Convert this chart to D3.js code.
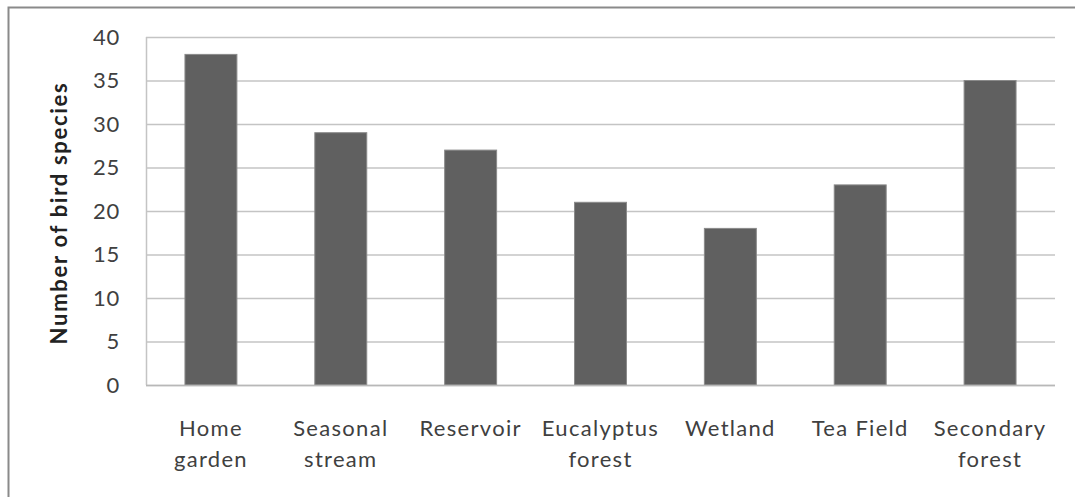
<!DOCTYPE html>
<html>
<head>
<meta charset="utf-8">
<script src="https://cdn.jsdelivr.net/npm/d3@7"></script>
<style>
  html, body { margin: 0; padding: 0; background: #fff; }
  svg { display: block; }
  text { font-family: Lato, "Open Sans", sans-serif; }
</style>
</head>
<body>
<svg id="chart" width="1075" height="497"></svg>
<script>
// Bird species richness by habitat type
const categories = [
  ["Home", "garden"],
  ["Seasonal", "stream"],
  ["Reservoir"],
  ["Eucalyptus", "forest"],
  ["Wetland"],
  ["Tea Field"],
  ["Secondary", "forest"]
];
const speciesCounts = [38, 29, 27, 21, 18, 23, 35];
const yTicks = [0, 5, 10, 15, 20, 25, 30, 35, 40];
const yTitle = "Number of bird species";

const svg = d3.select("#chart");
const W = 1075, H = 497;
const plot = { left: 146, right: 1055, top: 37, bottom: 385 };

// outer frame (top and left edges)
svg.append("path")
  .attr("d", `M8.5,${H} L8.5,7.5 L${W},7.5`)
  .attr("fill", "none")
  .attr("stroke", "#8a8a8a")
  .attr("stroke-width", 2);

const labels = categories.map(c => c.join(" "));
const x = d3.scaleBand().domain(labels).range([plot.left, plot.right]).paddingInner(0.6).paddingOuter(0.3);
const y = d3.scaleLinear().domain([0, 40]).range([plot.bottom, plot.top]);

// horizontal gridlines
svg.append("g")
  .selectAll("line")
  .data(yTicks)
  .join("line")
  .attr("x1", plot.left).attr("x2", plot.right)
  .attr("y1", d => y(d) + 0.5).attr("y2", d => y(d) + 0.5)
  .attr("stroke", "#c4c4c4")
  .attr("stroke-width", 1.5);

// left axis line
svg.append("line")
  .attr("x1", plot.left + 0.5).attr("x2", plot.left + 0.5)
  .attr("y1", plot.top).attr("y2", plot.bottom)
  .attr("stroke", "#c4c4c4").attr("stroke-width", 1.5);

// y axis labels
const yAxis = d3.axisLeft(y).tickValues(yTicks).tickSize(0).tickPadding(26);
const gy = svg.append("g").attr("transform", `translate(${plot.left},0)`).call(yAxis);
gy.select(".domain").remove();
gy.selectAll("text")
  .attr("fill", "#404040")
  .style("font-family", "Lato, sans-serif")
  .style("font-size", "22px")
  .style("letter-spacing", "0.8px");

// bars
svg.append("g")
  .selectAll("rect")
  .data(speciesCounts)
  .join("rect")
  .attr("x", (d, i) => x(labels[i]))
  .attr("width", x.bandwidth())
  .attr("y", d => y(d))
  .attr("height", d => y(0) - y(d))
  .attr("fill", "#606060")
  .attr("stroke", "#8a8a8a")
  .attr("stroke-width", 1);

// baseline
svg.append("line")
  .attr("x1", plot.left).attr("x2", plot.right)
  .attr("y1", plot.bottom + 0.5).attr("y2", plot.bottom + 0.5)
  .attr("stroke", "#b8b8b8").attr("stroke-width", 1.5);

// category labels (wrapped onto two lines)
const xl = svg.append("g");
categories.forEach((lines, i) => {
  const cx = x(labels[i]) + x.bandwidth() / 2;
  const t = xl.append("text")
    .attr("text-anchor", "middle")
    .attr("fill", "#404040")
    .style("font-size", "22px")
    .style("letter-spacing", "1.3px");
  lines.forEach((ln, j) => {
    t.append("tspan").attr("x", cx).attr("y", 436 + j * 30.5).text(ln);
  });
});

// y axis title
svg.append("text")
  .attr("transform", `translate(67,${(plot.top + plot.bottom) / 2 + 2}) rotate(-90)`)
  .attr("text-anchor", "middle")
  .attr("fill", "#222")
  .style("font-size", "22px")
  .style("font-weight", "bold")
  .style("letter-spacing", "1.7px")
  .text(yTitle);
</script>
</body>
</html>
